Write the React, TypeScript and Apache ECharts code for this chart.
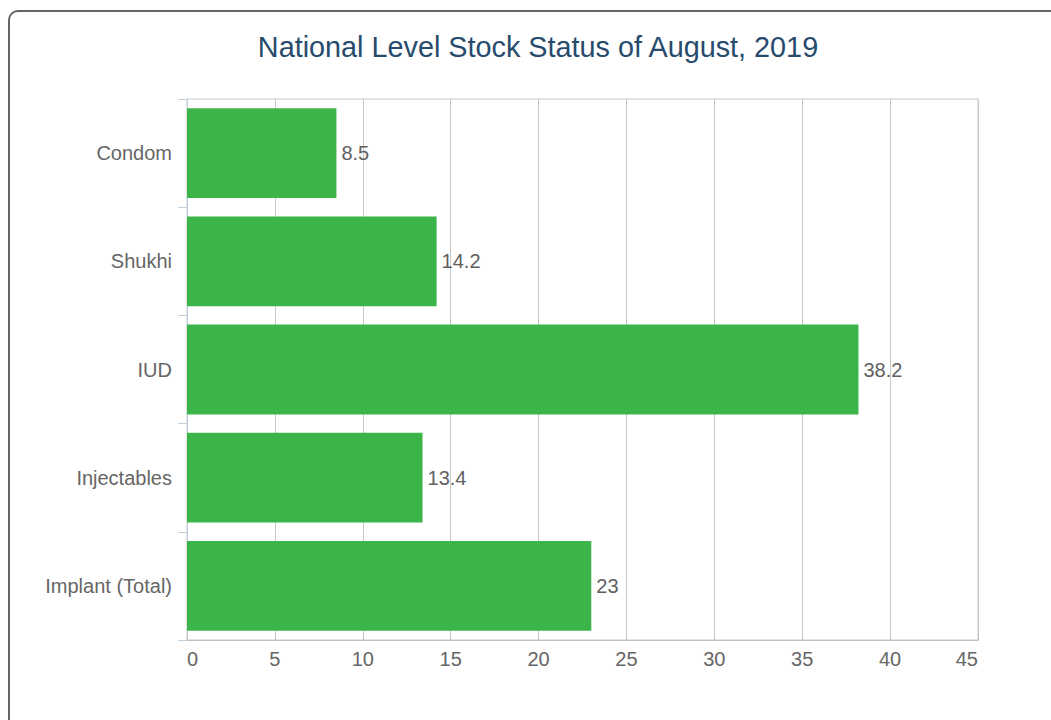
import React, { useEffect, useRef } from "react";
import * as echarts from "echarts";

const titleText = "National Level Stock Status of August, 2019";
const categories = ["Condom", "Shukhi", "IUD", "Injectables", "Implant (Total)"];
const stockValues = [8.5, 14.2, 38.2, 13.4, 23];
const axisMin = 0;
const axisMax = 45;
const axisInterval = 5;

const FONT = "'Liberation Sans', Arial, sans-serif";

export default function App() {
  const ref = useRef<HTMLDivElement>(null);

  useEffect(() => {
    if (!ref.current) return;
    const chart = echarts.init(ref.current, undefined, { renderer: "svg" });
    chart.setOption({
      animation: false,
      textStyle: { fontFamily: FONT },
      title: {
        text: titleText,
        left: 533,
        textAlign: "center",
        top: 27,
        textStyle: {
          color: "#274b6d",
          fontSize: 28.8,
          fontWeight: "normal",
          fontFamily: FONT,
        },
      },
      grid: {
        left: 187,
        right: 73,
        top: 99,
        bottom: 80,
        show: true,
        borderColor: "#c8c8c8",
        borderWidth: 1,
        containLabel: false,
      },
      xAxis: {
        type: "value",
        min: axisMin,
        max: axisMax,
        interval: axisInterval,
        axisLine: { show: true, lineStyle: { color: "#c0c0c0", width: 1 } },
        axisTick: { show: true, inside: true, length: 7, lineStyle: { color: "#c0c0c0" } },
        splitLine: { show: true, lineStyle: { color: "#c8c8c8", width: 1 } },
        axisLabel: {
          color: "#666666",
          fontSize: 20,
          fontFamily: FONT,
          margin: 9,
          alignMinLabel: "left",
          alignMaxLabel: "right",
        },
      },
      yAxis: {
        type: "category",
        data: categories,
        inverse: true,
        axisLine: { show: true, lineStyle: { color: "#c0d0e0", width: 1 } },
        axisTick: { show: true, length: 9, lineStyle: { color: "#c0d0e0" } },
        splitLine: { show: false },
        axisLabel: {
          color: "#666666",
          fontSize: 20,
          fontFamily: FONT,
          margin: 15,
        },
      },
      series: [
        {
          type: "bar",
          data: stockValues,
          barCategoryGap: "17%",
          itemStyle: { color: "#3bb54a" },
          label: {
            show: true,
            position: "right",
            distance: 5,
            color: "#606060",
            fontSize: 20,
            fontFamily: FONT,
          },
        },
      ],
    });
    return () => chart.dispose();
  }, []);

  return (
    <div
      style={{
        position: "fixed",
        left: 0,
        top: 0,
        width: 1051,
        height: 720,
        overflow: "hidden",
        background: "#fff",
      }}
    >
      <div
        style={{
          position: "absolute",
          left: 8,
          top: 10,
          width: 1100,
          height: 800,
          border: "2px solid #666",
          borderRadius: 10,
          boxSizing: "border-box",
        }}
      />
      <div
        ref={ref}
        style={{ position: "absolute", left: 0, top: 0, width: 1051, height: 720 }}
      />
    </div>
  );
}
